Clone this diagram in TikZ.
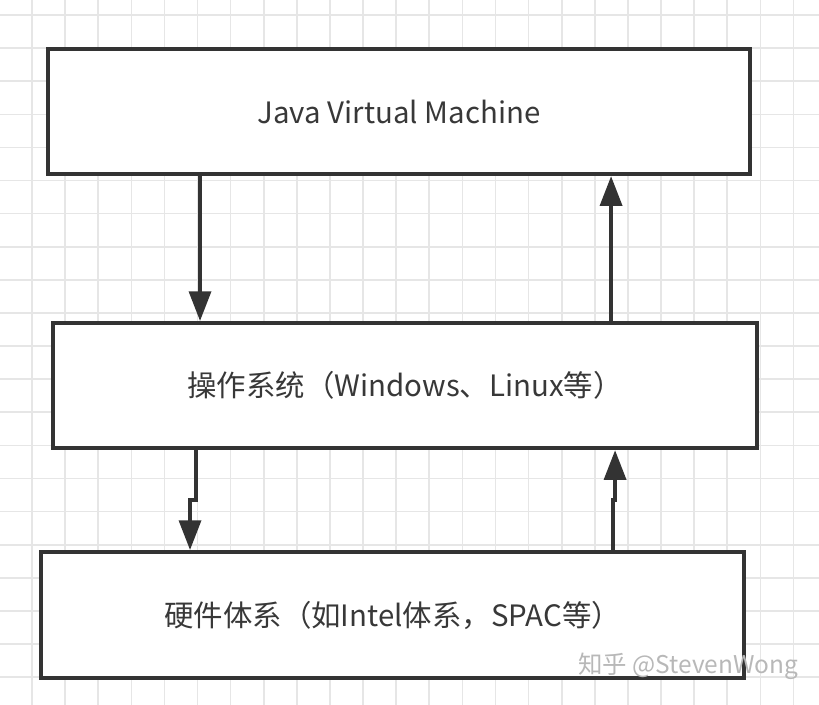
\documentclass[tikz,border=0pt]{standalone}
\usepackage{fontspec}
\setmainfont{Noto Sans CJK SC}
\usepackage{tikz}
\usetikzlibrary{arrows.meta, positioning, calc}

\definecolor{ink}{HTML}{333333}
\definecolor{gridgray}{HTML}{E6E6E6}

\begin{document}
\begin{tikzpicture}[
    box/.style={draw=ink, line width=3.4pt, fill=white, text=black!78,
        font=\fontsize{25.3}{30}\selectfont, inner sep=0pt,
        minimum width=#1, minimum height=3.78cm},
    arr/.style={draw=ink, line width=3.4pt, -{Triangle[length=0.9cm, width=0.66cm]}}
]
    \useasboundingbox (0,0) rectangle (24.74,21.27);
    \clip (0,0) rectangle (24.74,21.27);
    \fill[white] (0,0) rectangle (24.74,21.27);
    \draw[gridgray, line width=1.4pt, xshift=0.967cm, yshift=0.816cm] (-1,-1) grid (24,21);

    \node[box=21.21cm] (jvm) at (12.054,17.900) {Java Virtual Machine};
    \node[box=21.27cm] (os)  at (12.236,9.622) {操作系统（Windows、Linux等）};
    \node[box=21.24cm, minimum height=3.81cm] (hw) at (11.858,2.689) {硬件体系（如Intel体系，SPAC等）};

    \coordinate (d1) at (6.042,0);
    \coordinate (u1) at (18.459,0);
    \coordinate (d2) at (5.921,6.163);
    \coordinate (u2) at (18.520,6.163);

    \draw[arr] (d1 |- jvm.south) -- (d1 |- os.north);
    \draw[arr] (u1 |- os.north) -- (u1 |- jvm.south);
    \draw[arr] (d2 |- os.south) -- (d2) -- ++(-0.181,0) -- ($(d2 |- hw.north)+(-0.181,0)$);
    \draw[arr] (u2 |- hw.north) -- (u2) -- ++(0.06,0) -- ($(u2 |- os.south)+(0.06,0)$);

    \node[anchor=west, text=black!28, font=\fontsize{21}{25}\selectfont] (mark) at (17.35,1.15) {知乎 @StevenWong};
\end{tikzpicture}
\end{document}
